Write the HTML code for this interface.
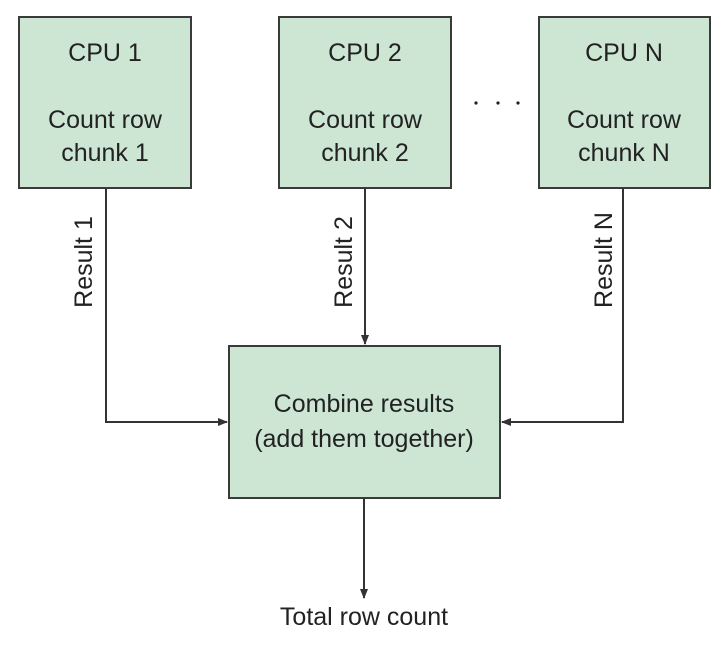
<!DOCTYPE html>
<html><head><style>
html,body{margin:0;padding:0;background:#fff;}
svg{display:block;}
text{font-family:"Liberation Sans",Arial,sans-serif;font-size:25px;fill:#222;}
</style></head><body>
<svg width="727" height="646" viewBox="0 0 727 646" xmlns="http://www.w3.org/2000/svg">
<defs><marker id="a" markerWidth="10" markerHeight="10" refX="9" refY="5" orient="auto" markerUnits="userSpaceOnUse"><path d="M0,1 L10,5 L0,9 z" fill="#333"/></marker></defs>
<g fill="#cde6d4" stroke="#3a3a3a" stroke-width="2">
<rect x="19" y="17" width="172" height="171"/>
<rect x="279" y="17" width="172" height="171"/>
<rect x="539" y="17" width="171" height="171"/>
<rect x="229" y="346" width="271" height="152"/>
</g>
<g stroke="#333" stroke-width="2" fill="none">
<polyline points="106,188 106,422 227,422" marker-end="url(#a)"/>
<line x1="365" y1="188" x2="365" y2="344" marker-end="url(#a)"/>
<polyline points="623,188 623,422 502,422" marker-end="url(#a)"/>
<line x1="364" y1="498" x2="364" y2="598" marker-end="url(#a)"/>
</g>
<g text-anchor="middle">
<text x="105" y="61">CPU 1</text>
<text x="105" y="128">Count row</text>
<text x="105" y="161">chunk 1</text>
<text x="365" y="61">CPU 2</text>
<text x="365" y="128">Count row</text>
<text x="365" y="161">chunk 2</text>
<text x="624" y="61">CPU N</text>
<text x="624" y="128">Count row</text>
<text x="624" y="161">chunk N</text>
<text x="364" y="412">Combine results</text>
<text x="364" y="447">(add them together)</text>
<text x="364" y="625">Total row count</text>
<text transform="translate(92,262) rotate(-90)">Result 1</text>
<text transform="translate(352,262) rotate(-90)">Result 2</text>
<text transform="translate(612,260) rotate(-90)">Result N</text>
</g>
<g fill="#222"><circle cx="476" cy="103" r="1.6"/><circle cx="498" cy="103" r="1.6"/><circle cx="518" cy="103" r="1.6"/></g>
</svg>
</body></html>
